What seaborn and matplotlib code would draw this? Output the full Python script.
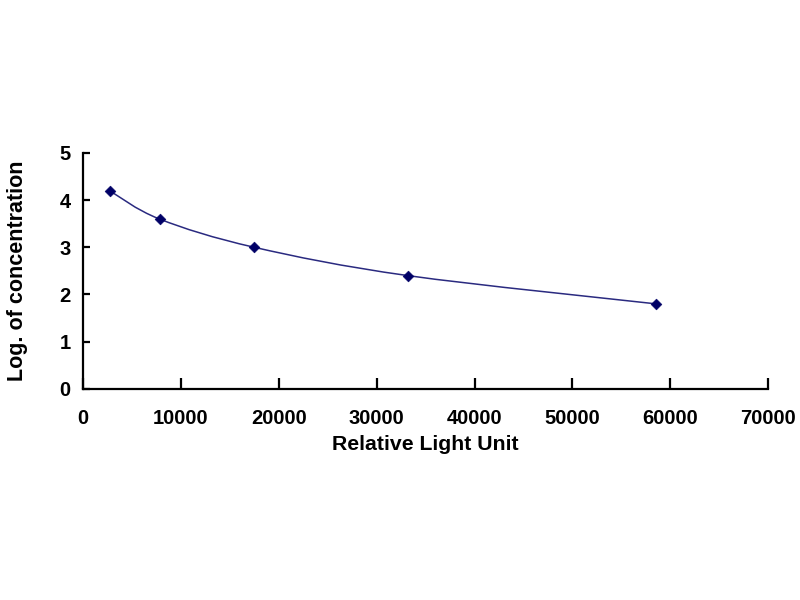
import numpy as np
import matplotlib
matplotlib.use("Agg")
import matplotlib.pyplot as plt
from matplotlib.path import Path
from matplotlib.patches import PathPatch
import seaborn as sns

# standard curve readings
rlu = [2700, 7800, 17500, 33200, 58600]
log_conc = [4.2, 3.6, 3.0, 2.4, 1.8]

x_ticks = [0, 10000, 20000, 30000, 40000, 50000, 60000, 70000]
y_ticks = [0, 1, 2, 3, 4, 5]

sns.set_style("white")
plt.rcParams['font.family'] = ['Liberation Sans', 'DejaVu Sans']

fig = plt.figure(figsize=(8, 6), dpi=100)
ax = fig.add_axes([0.104, 0.352, 0.856, 0.393])
ax.set_xlim(0, 70000)
ax.set_ylim(0, 5)

# smoothed connecting line (Excel-like), Catmull-Rom -> cubic Bezier in screen-ish units
sx, sy = 685 / 70000, 236 / 5
P = np.column_stack([np.array(rlu) * sx, np.array(log_conc) * sy])
ext = np.vstack([P[0], P, P[-1]])
verts = [tuple(P[0])]
codes = [Path.MOVETO]
for i in range(len(P) - 1):
    p0, p1, p2, p3 = ext[i], ext[i + 1], ext[i + 2], ext[i + 3]
    c1 = p1 + (p2 - p0) / 6
    c2 = p2 - (p3 - p1) / 6
    verts += [tuple(c1), tuple(c2), tuple(p2)]
    codes += [Path.CURVE4] * 3
verts = [(vx / sx, vy / sy) for vx, vy in verts]
ax.add_patch(PathPatch(Path(verts, codes), fill=False, edgecolor='#2a2a80', lw=1.1))

sns.scatterplot(x=rlu, y=log_conc, marker='D', s=30, color='#000066',
                edgecolor='#000066', ax=ax, zorder=3)

ax.set_xticks(x_ticks)
ax.set_yticks(y_ticks)
for s in ['top', 'right']:
    ax.spines[s].set_visible(False)
for s in ['left', 'bottom']:
    ax.spines[s].set_linewidth(1.6)
    ax.spines[s].set_color('black')
ax.tick_params(axis='x', bottom=True, direction='in', length=8, width=1.6,
               pad=14.5, labelsize=14.5, colors='black')
ax.tick_params(axis='y', left=True, direction='in', length=5, width=1.6,
               pad=9, labelsize=14.5, colors='black')
for lab in ax.get_xticklabels() + ax.get_yticklabels():
    lab.set_fontweight('bold')

ax.set_xlabel('Relative Light Unit', fontsize=15.3, fontweight='bold',
              labelpad=5, color='black')
ax.set_ylabel('Log. of concentration', fontsize=15.5, fontweight='bold',
              labelpad=23, color='black')

fig.savefig('out.png', dpi=100)
